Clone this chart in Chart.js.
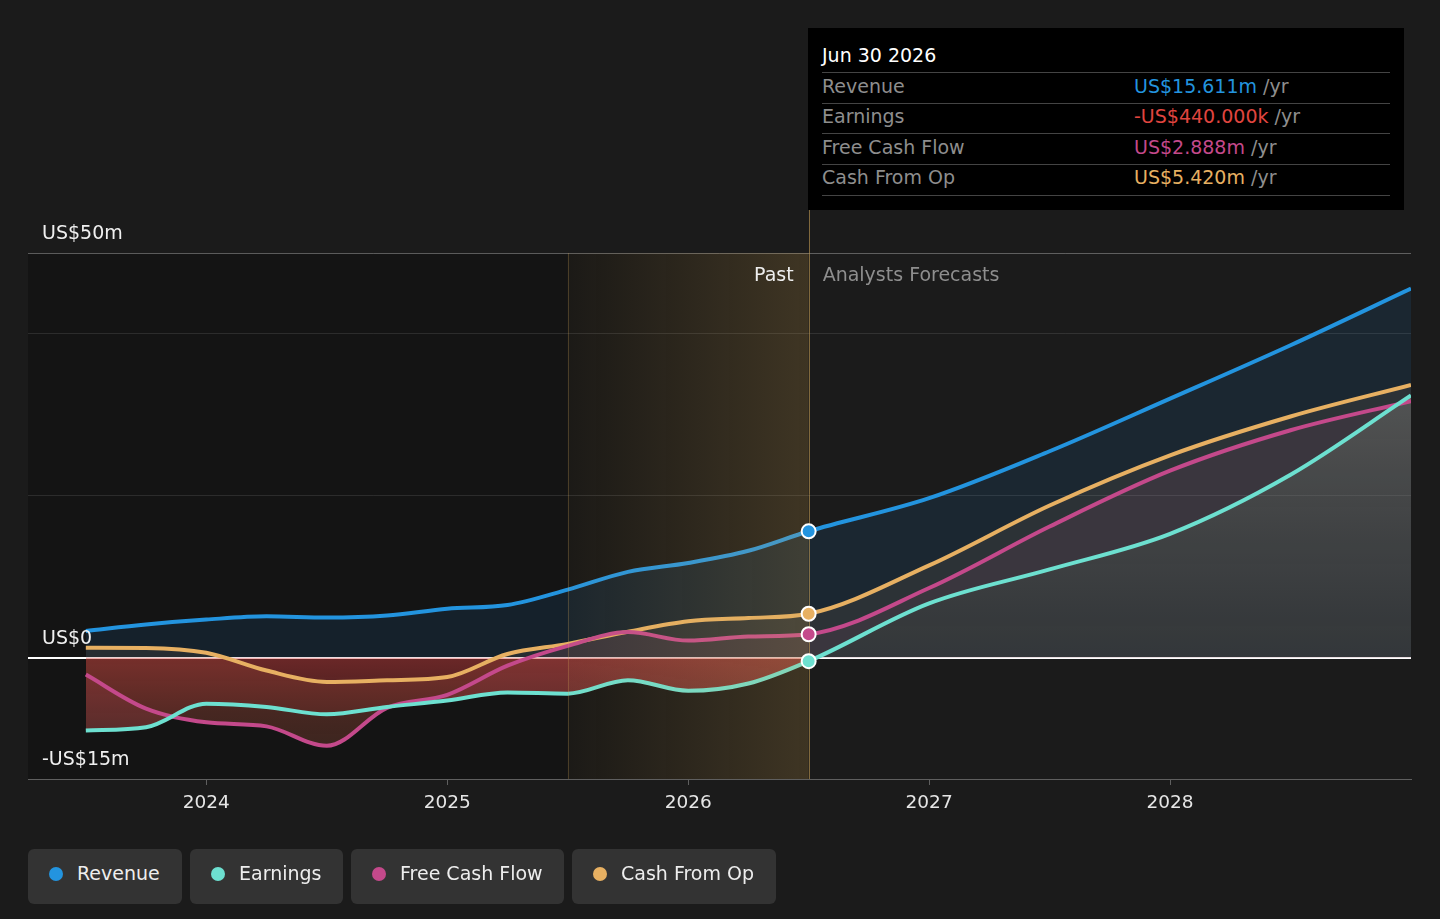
<!DOCTYPE html>
<html>
<head>
<meta charset="utf-8">
<script src="https://cdn.jsdelivr.net/npm/chart.js@4.4.1/dist/chart.umd.min.js"></script>
<style>
  html,body{margin:0;padding:0;background:#1b1b1b;width:1440px;height:919px;overflow:hidden;font-family:'DejaVu Sans',sans-serif;}
  #wrap{position:absolute;left:0;top:0;width:1440px;height:919px;}
  #tip{position:absolute;left:808px;top:28px;width:596px;height:182px;background:#000;}
  #tip .t{position:absolute;left:14px;top:14px;font-size:19px;color:#fff;line-height:26px;}
  #tip .sep{position:absolute;left:14px;width:568px;height:1px;background:#444;}
  #tip .lab{position:absolute;left:14px;font-size:19px;color:#8e8e8e;line-height:24px;}
  #tip .val{position:absolute;left:326px;font-size:19px;line-height:24px;color:#8e8e8e;}
  .leg{position:absolute;top:849px;height:55px;background:#333;border-radius:6px;color:#eee;font-size:19px;line-height:49px;box-sizing:border-box;padding-left:49px;}
  .leg i{position:absolute;left:21px;top:18px;width:14px;height:14px;border-radius:50%;}
</style>
</head>
<body>
<div id="wrap"><canvas id="c" width="1440" height="919"></canvas></div>
<div id="tip">
  <div class="t">Jun 30 2026</div>
  <div class="sep" style="top:44px"></div>
  <div class="lab" style="top:46px">Revenue</div>
  <div class="val" style="top:46px"><span style="color:#2394df">US$15.611m</span> /yr</div>
  <div class="sep" style="top:75px"></div>
  <div class="lab" style="top:76px">Earnings</div>
  <div class="val" style="top:76px"><span style="color:#e0453f">-US$440.000k</span> /yr</div>
  <div class="sep" style="top:105px"></div>
  <div class="lab" style="top:107px">Free Cash Flow</div>
  <div class="val" style="top:107px"><span style="color:#c4498b">US$2.888m</span> /yr</div>
  <div class="sep" style="top:136px"></div>
  <div class="lab" style="top:137px">Cash From Op</div>
  <div class="val" style="top:137px"><span style="color:#e7b062">US$5.420m</span> /yr</div>
  <div class="sep" style="top:167px"></div>
</div>
<div class="leg" style="left:28px;width:154px"><i style="background:#2394df"></i>Revenue</div>
<div class="leg" style="left:190px;width:153px"><i style="background:#6de0d0"></i>Earnings</div>
<div class="leg" style="left:351px;width:213px"><i style="background:#c4498b"></i>Free Cash Flow</div>
<div class="leg" style="left:572px;width:204px"><i style="background:#e7b062"></i>Cash From Op</div>
<script>
// ---- data (US$ millions, x in decimal years) ----
const years      = [2023.5, 2023.75, 2024.0, 2024.25, 2024.5, 2024.75, 2025.0, 2025.25, 2025.5, 2025.75, 2026.0, 2026.25, 2026.5, 2027.0, 2027.5, 2028.0, 2028.5, 2029.0];
const revenue    = [3.3, 4.1, 4.7, 5.1, 4.95, 5.2, 6.05, 6.5, 8.4, 10.6, 11.7, 13.2, 15.611, 19.7, 25.5, 32.0, 38.6, 45.6];
const earnings   = [-9.0, -8.6, -5.7, -6.1, -7.0, -6.1, -5.3, -4.3, -4.45, -2.8, -4.1, -3.2, -0.44, 6.7, 10.9, 15.3, 22.6, 32.4];
const freeCash   = [-2.1, -6.3, -8.0, -8.5, -10.9, -6.2, -4.6, -1.0, 1.45, 3.15, 2.1, 2.6, 2.888, 8.6, 16.2, 23.1, 28.1, 31.7];
const cashFromOp = [1.23, 1.2, 0.6, -1.6, -3.0, -2.8, -2.4, 0.45, 1.7, 3.2, 4.5, 4.9, 5.42, 11.4, 18.8, 25.0, 29.8, 33.7];
const yTicks     = [-15, 0, 20, 40, 50];
const yLabels    = {'-15': '-US$15m', '0': 'US$0', '50': 'US$50m'};
const xTicks     = [2024, 2025, 2026, 2027, 2028];
const pastEnd    = 2026.5;
const shadeStart = 2025.5;
const markerIdx  = years.indexOf(pastEnd);

const C = {rev:'#2394df', earn:'#6de0d0', fcf:'#c4498b', cfo:'#e7b062'};
const pts = arr => years.map((x,i)=>({x, y: arr[i]}));
const marker = (arr, col) => ({
  type:'line', data:[{x: years[markerIdx], y: arr[markerIdx]}], showLine:false,
  pointRadius:7, pointHoverRadius:7, pointBackgroundColor:col, pointBorderColor:'#fff', pointBorderWidth:2, order:0, fill:false
});

Chart.defaults.font.family = "'DejaVu Sans', sans-serif";

const bgPlugin = {
  id:'bgPlugin',
  afterLayout(chart){
    const ctx = chart.ctx, y = chart.scales.y, ds = chart.data.datasets;
    const y0 = y.getPixelForValue(0), y40 = y.getPixelForValue(40), yb = y.getPixelForValue(-15);
    const gray = ctx.createLinearGradient(0, y40, 0, y0);
    gray.addColorStop(0, 'rgba(170,145,122,0.5)');
    gray.addColorStop(1, 'rgba(125,92,64,0.28)');
    const red = ctx.createLinearGradient(0, y0, 0, yb);
    red.addColorStop(0, 'rgba(226,66,66,0.42)');
    red.addColorStop(1, 'rgba(226,66,66,0.04)');
    const red2 = ctx.createLinearGradient(0, y0, 0, yb);
    red2.addColorStop(0, 'rgba(226,66,66,0.25)');
    red2.addColorStop(1, 'rgba(226,66,66,0.05)');
    ds[1].fill = {target:'origin', above: gray, below: red};
    ds[2].fill = {target:1, above:'rgba(190,110,100,0.22)', below: red2};
  },
  beforeDraw(chart){
    const {ctx, chartArea:a, scales:{x}} = chart;
    const xe = x.getPixelForValue(pastEnd);
    ctx.save();
    ctx.fillStyle = 'rgba(0,0,0,0.25)';
    ctx.fillRect(a.left, a.top, xe - a.left, a.bottom - a.top);
    ctx.restore();
  },
  afterDatasetDraw(chart, args){
    if (args.index !== 0) return;
    const {ctx, chartArea:a, scales:{x}} = chart;
    const xs = x.getPixelForValue(shadeStart), xe = x.getPixelForValue(pastEnd);
    ctx.save();
    const g = ctx.createLinearGradient(xs, 0, xe, 0);
    g.addColorStop(0, 'rgba(214,170,90,0.04)');
    g.addColorStop(1, 'rgba(214,170,90,0.22)');
    ctx.fillStyle = g;
    ctx.fillRect(xs, a.top, xe - xs, a.bottom - a.top);
    ctx.lineWidth = 1;
    ctx.strokeStyle = 'rgba(214,170,90,0.25)';
    ctx.beginPath(); ctx.moveTo(Math.round(xs)+0.5, a.top); ctx.lineTo(Math.round(xs)+0.5, a.bottom); ctx.stroke();
    ctx.strokeStyle = 'rgba(214,170,90,0.55)';
    ctx.beginPath(); ctx.moveTo(Math.round(xe)+0.5, 210); ctx.lineTo(Math.round(xe)+0.5, a.bottom); ctx.stroke();
    ctx.font = "19px 'DejaVu Sans'";
    ctx.textBaseline = 'middle';
    ctx.textAlign = 'right'; ctx.fillStyle = '#eeeeee';
    ctx.fillText('Past', xe - 15, a.top + 23);
    ctx.textAlign = 'left'; ctx.fillStyle = '#8e8e8e';
    ctx.fillText('Analysts Forecasts', xe + 14, a.top + 23);
    ctx.restore();
  }
};

new Chart(document.getElementById('c'), {
  type:'line',
  data:{
    datasets:[
      {label:'Revenue', data:pts(revenue), borderColor:C.rev, borderWidth:4, pointRadius:0, cubicInterpolationMode:'monotone', order:1,
       fill:'origin', backgroundColor:'rgba(33,150,243,0.1)'},
      {label:'Earnings', data:pts(earnings), borderColor:C.earn, borderWidth:4, pointRadius:0, cubicInterpolationMode:'monotone', order:1,
       fill:{target:'origin', above:'rgba(255,255,255,0.14)', below:'rgba(226,60,60,0.3)'}},
      {label:'Free Cash Flow', data:pts(freeCash), borderColor:C.fcf, borderWidth:4, pointRadius:0, cubicInterpolationMode:'monotone', order:1,
       fill:{target:1, above:'rgba(190,110,100,0.22)', below:'rgba(200,50,60,0.12)'}},
      {label:'Cash From Op', data:pts(cashFromOp), borderColor:C.cfo, borderWidth:4, pointRadius:0, cubicInterpolationMode:'monotone', order:1,
       fill:{target:2, above:'rgba(230,160,90,0.1)', below:'rgba(0,0,0,0)'}},
      marker(revenue, C.rev), marker(earnings, C.earn), marker(freeCash, C.fcf), marker(cashFromOp, C.cfo)
    ]
  },
  options:{
    responsive:false, animation:false, events:[],
    layout:{padding:{left:14, right:29, top:253, bottom:100}},
    plugins:{legend:{display:false}, tooltip:{enabled:false}, filler:{drawTime:'beforeDatasetsDraw'}},
    scales:{
      x:{type:'linear', min:2023.26, max:2029.0,
        afterBuildTicks: s => { s.ticks = xTicks.map(v=>({value:v})); },
        afterFit: s => { s.height = 40; },
        grid:{drawOnChartArea:false, drawTicks:true, tickLength:6, color:'rgba(255,255,255,0.3)'},
        border:{display:true, color:'rgba(255,255,255,0.3)', width:1},
        ticks:{color:'#e6e6e6', font:{size:18.5}, padding:7, callback:v=>String(v), maxRotation:0}
      },
      y:{type:'linear', min:-15, max:50,
        afterBuildTicks: s => { s.ticks = yTicks.map(v=>({value:v})); },
        afterFit: s => { s.width = 14; },
        grid:{drawTicks:false,
          color: c => { const v=c.tick && c.tick.value; return v===0 ? '#ffffff' : v===50 ? 'rgba(255,255,255,0.3)' : v===-15 ? 'rgba(0,0,0,0)' : 'rgba(255,255,255,0.1)'; },
          lineWidth: c => (c.tick && c.tick.value===0) ? 2 : 1},
        border:{display:false},
        ticks:{mirror:true, padding:14, labelOffset:-19, color:'#f0f0f0', font:{size:19}, z:1,
          callback: v => yLabels[String(v)] || ''}
      }
    }
  },
  plugins:[bgPlugin]
});
</script>
</body>
</html>
